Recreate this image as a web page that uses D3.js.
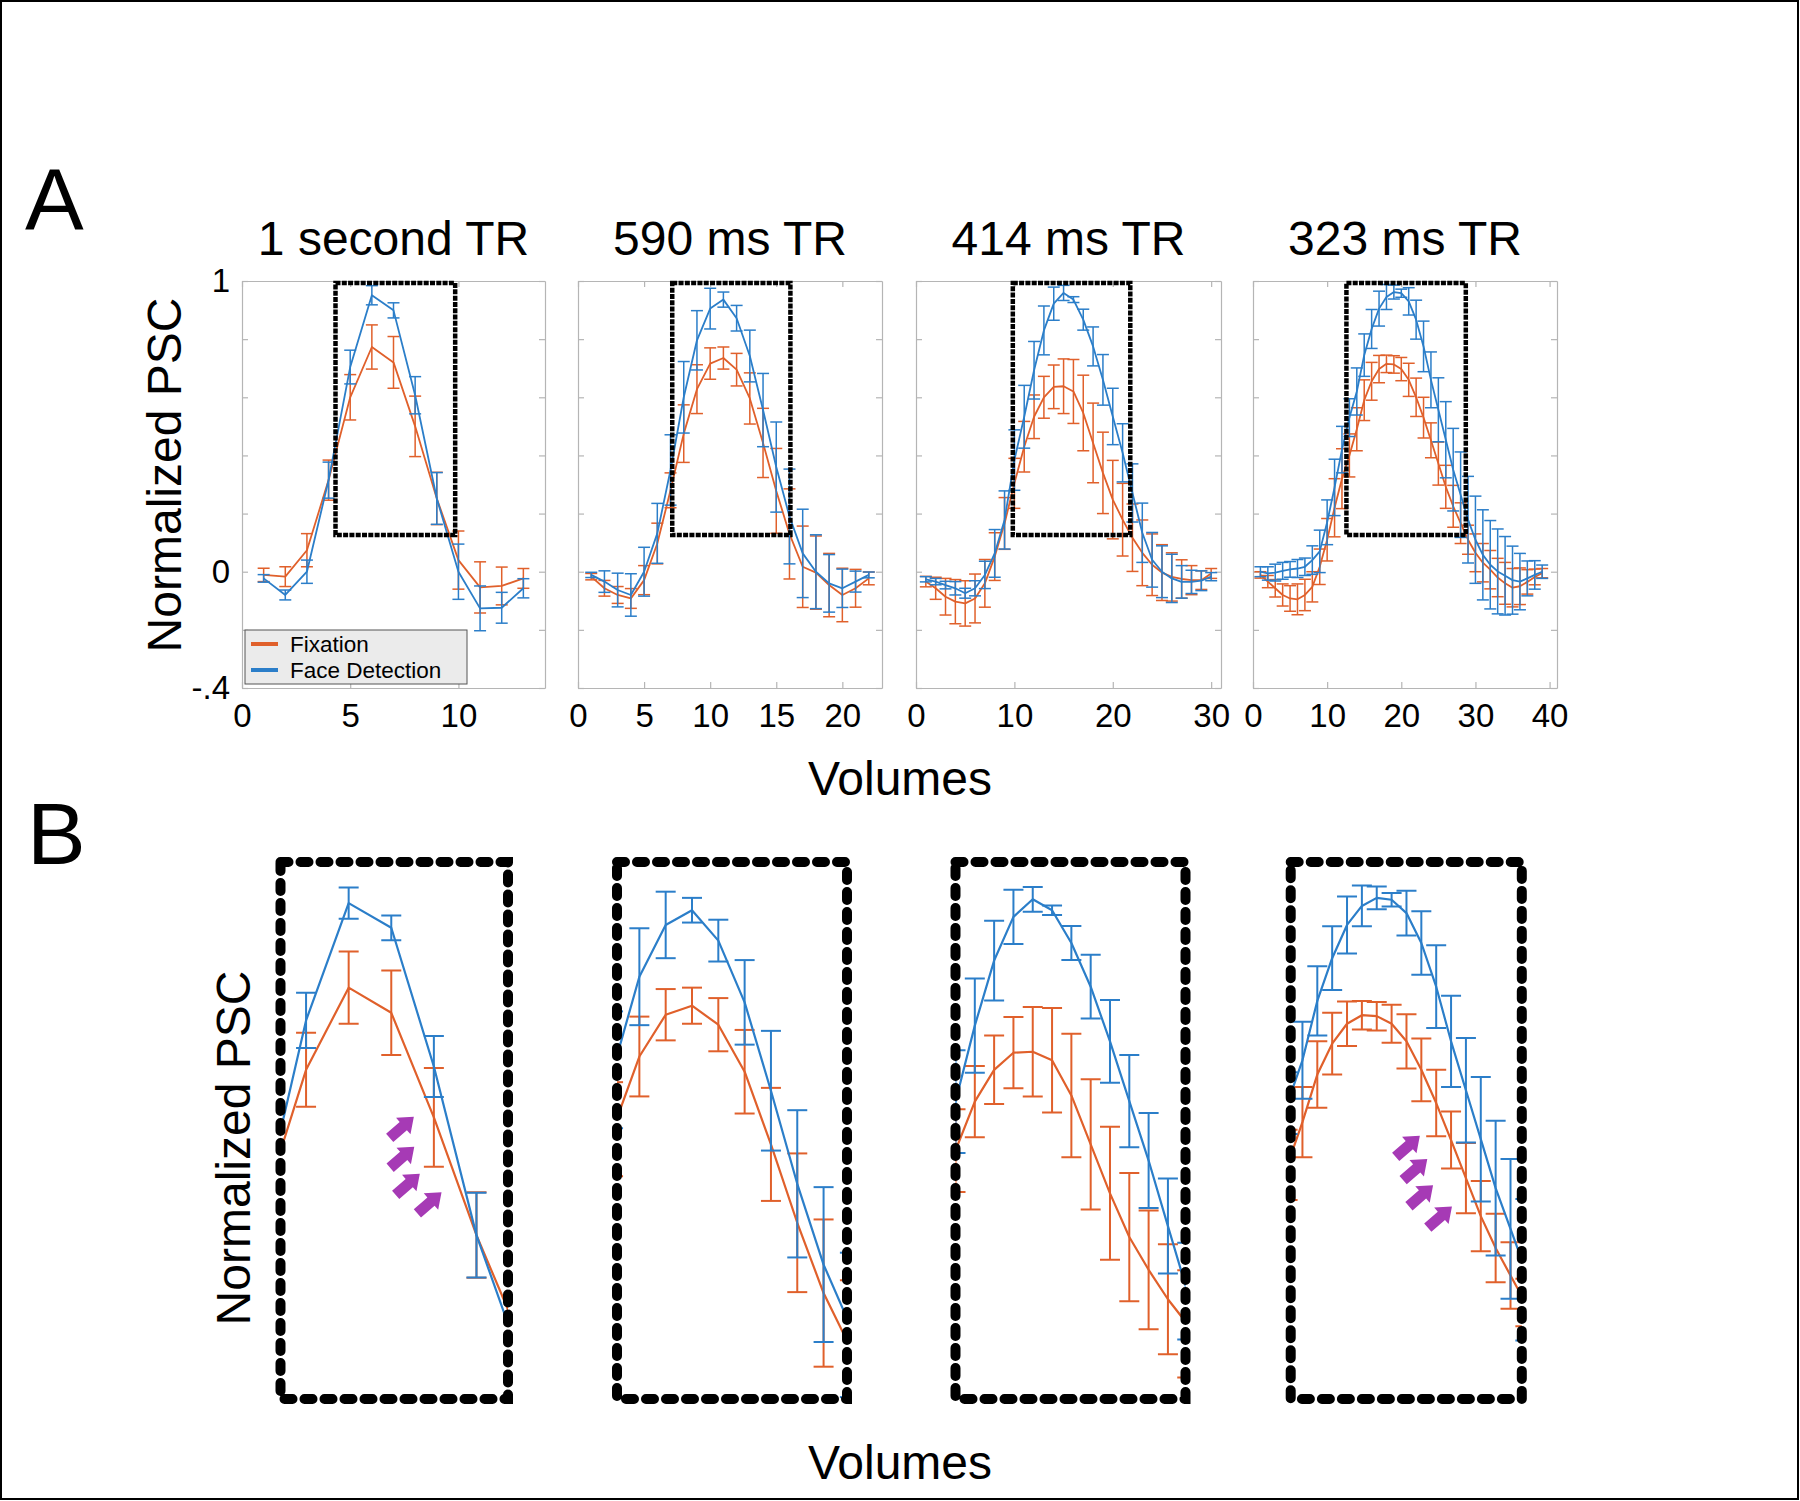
<!DOCTYPE html>
<html><head><meta charset="utf-8">
<script src="https://cdn.jsdelivr.net/npm/d3@7"></script>
<style>
body{margin:0;background:#fff}
svg{display:block}
text{font-family:"Liberation Sans",Arial,sans-serif;fill:#000}
</style>
</head><body>
<svg id="chart" width="1800" height="1501"></svg>
<script>
// ---------------- DATA ----------------
const panelTitles = ["1 second TR", "590 ms TR", "414 ms TR", "323 ms TR"];
const seriesNames = ["Fixation", "Face Detection"];
const xAxisLabel = "Volumes";
const yAxisLabel = "Normalized PSC";
const xMax = [14, 23, 31, 41];
const xTicks = [[0, 5, 10], [0, 5, 10, 15, 20], [0, 10, 20, 30], [0, 10, 20, 30, 40]];
const yTicks = [-0.4, -0.2, 0, 0.2, 0.4, 0.6, 0.8, 1];
const yTickLabelled = [-0.4, 0, 1];
const yTickText = ["-.4", "0", "1"];

// 1 second TR
const fix1 = [-0.011, -0.017, 0.074, 0.315, 0.60, 0.773, 0.72, 0.50, 0.252, 0.04, -0.054, -0.049, -0.023];
const fixErr1 = [0.023, 0.034, 0.057, 0.069, 0.078, 0.076, 0.089, 0.104, 0.09, 0.10, 0.088, 0.065, 0.034];
const face1 = [-0.023, -0.08, 0.0, 0.315, 0.704, 0.951, 0.899, 0.607, 0.252, 0.0, -0.126, -0.124, -0.057];
const faceErr1 = [0.013, 0.017, 0.04, 0.062, 0.058, 0.033, 0.026, 0.064, 0.089, 0.095, 0.077, 0.053, 0.033];

// 590 ms TR
const fix2 = [-0.017, -0.057, -0.08, -0.092, -0.029, 0.097, 0.28, 0.475, 0.628, 0.716, 0.735, 0.695, 0.596, 0.443, 0.278, 0.13, 0.017, -0.003, -0.046, -0.08, -0.057, -0.023];
const fixErr2 = [0.011, 0.027, 0.029, 0.034, 0.05, 0.07, 0.06, 0.099, 0.084, 0.054, 0.038, 0.056, 0.088, 0.119, 0.146, 0.155, 0.14, 0.126, 0.109, 0.092, 0.065, 0.022];
const face2 = [-0.011, -0.034, -0.063, -0.08, 0.0, 0.132, 0.35, 0.60, 0.796, 0.905, 0.936, 0.872, 0.742, 0.556, 0.36, 0.19, 0.063, 0.0, -0.04, -0.057, -0.034, -0.011];
const faceErr2 = [0.009, 0.037, 0.058, 0.073, 0.084, 0.103, 0.121, 0.123, 0.102, 0.07, 0.026, 0.044, 0.089, 0.126, 0.155, 0.163, 0.152, 0.127, 0.099, 0.066, 0.036, 0.01];

// 414 ms TR
const fix3 = [-0.034, -0.057, -0.086, -0.103, -0.109, -0.092, -0.04, 0.052, 0.166, 0.304, 0.43, 0.533, 0.60, 0.636, 0.638, 0.62, 0.546, 0.443, 0.34, 0.248, 0.179, 0.117, 0.065, 0.024, -0.003, -0.018, -0.025, -0.029, -0.029, -0.006];
const fixErr3 = [0.018, 0.038, 0.063, 0.076, 0.078, 0.084, 0.082, 0.082, 0.089, 0.086, 0.087, 0.075, 0.072, 0.075, 0.094, 0.11, 0.13, 0.137, 0.14, 0.135, 0.125, 0.116, 0.113, 0.106, 0.096, 0.083, 0.066, 0.05, 0.032, 0.017];
const face3 = [-0.026, -0.034, -0.046, -0.057, -0.074, -0.057, -0.011, 0.063, 0.178, 0.384, 0.533, 0.693, 0.83, 0.922, 0.959, 0.936, 0.867, 0.775, 0.66, 0.534, 0.409, 0.271, 0.134, 0.041, 0.0, -0.023, -0.035, -0.035, -0.031, -0.017];
const faceErr3 = [0.009, 0.011, 0.013, 0.023, 0.017, 0.026, 0.047, 0.082, 0.1, 0.104, 0.108, 0.099, 0.084, 0.057, 0.026, 0.01, 0.036, 0.067, 0.087, 0.097, 0.1, 0.1, 0.102, 0.094, 0.089, 0.083, 0.056, 0.04, 0.034, 0.014];

// 323 ms TR
const fix4 = [-0.011, -0.034, -0.057, -0.08, -0.092, -0.095, -0.08, -0.052, 0.017, 0.11, 0.22, 0.32, 0.40, 0.49, 0.59, 0.655, 0.697, 0.715, 0.713, 0.697, 0.66, 0.60, 0.53, 0.452, 0.372, 0.292, 0.225, 0.167, 0.11, 0.065, 0.031, 0.007, -0.02, -0.04, -0.055, -0.05, -0.035, -0.018, -0.005];
const fixErr4 = [0.011, 0.021, 0.03, 0.038, 0.044, 0.053, 0.054, 0.052, 0.061, 0.073, 0.1, 0.103, 0.074, 0.074, 0.07, 0.065, 0.047, 0.03, 0.03, 0.04, 0.057, 0.066, 0.07, 0.06, 0.074, 0.074, 0.072, 0.07, 0.05, 0.065, 0.066, 0.066, 0.066, 0.072, 0.066, 0.063, 0.042, 0.027, 0.016];
const face4 = [0.0, -0.006, -0.003, 0.003, 0.008, 0.011, 0.017, 0.04, 0.07, 0.17, 0.29, 0.42, 0.53, 0.62, 0.745, 0.835, 0.905, 0.945, 0.962, 0.958, 0.93, 0.867, 0.775, 0.66, 0.557, 0.454, 0.351, 0.265, 0.179, 0.11, 0.058, 0.024, 0.001, -0.014, -0.029, -0.034, -0.023, -0.011, 0.0];
const faceErr4 = [0.017, 0.023, 0.029, 0.029, 0.027, 0.031, 0.03, 0.049, 0.073, 0.077, 0.097, 0.08, 0.065, 0.081, 0.073, 0.067, 0.06, 0.043, 0.024, 0.014, 0.047, 0.067, 0.087, 0.096, 0.11, 0.131, 0.142, 0.147, 0.149, 0.15, 0.155, 0.152, 0.146, 0.135, 0.117, 0.097, 0.06, 0.049, 0.023];

// highlighted windows (data units) and zoomed views
const boxX = [[4.32, 9.85], [7.13, 16.07], [9.84, 21.78], [12.6, 28.7]];
const boxY = [0.126, 0.993];
const zoomX = [[4.40, 9.74], [8.15, 16.89], [11.0, 22.91], [13.21, 28.76]];
const zoomY = [-0.093, 1.0375];
// arrow tips (data units) in zoomed panels
const arrowTips = [
  [[7.53, 0.501], [7.54, 0.438], [7.67, 0.381], [8.18, 0.342]],
  [],
  [],
  [[21.90, 0.461], [22.40, 0.412], [22.79, 0.357], [24.06, 0.312]]
];

const fixMeans = [fix1, fix2, fix3, fix4];
const fixErrs = [fixErr1, fixErr2, fixErr3, fixErr4];
const faceMeans = [face1, face2, face3, face4];
const faceErrs = [faceErr1, faceErr2, faceErr3, faceErr4];

// ---------------- STYLE / LAYOUT ----------------
const colFix = "#e0602b";
const colFace = "#2b7ec9";
const axisCol = "#b5b5b5";
const aLeft = [242, 578, 916, 1253];
const aRight = [545, 882, 1221, 1557];
const aTop = 281, aBottom = 688;
const bLeft = [280.5, 617, 955.5, 1290.7];
const bRight = [508, 847, 1185.5, 1521.8];
const bTop = 862, bBottom = 1399;

const svg = d3.select("#chart");
svg.append("rect").attr("x", 1).attr("y", 1).attr("width", 1797).attr("height", 1498)
  .attr("fill", "#fff").attr("stroke", "#000").attr("stroke-width", 2);

function drawSeries(g, xs, ys, means, errs, color, cap, lw, blw) {
  const idx = d3.range(1, means.length + 1);
  const sg = g.append("g");
  sg.selectAll("line.bar").data(means).join("line").attr("class", "bar")
    .attr("x1", (d, i) => xs(idx[i])).attr("x2", (d, i) => xs(idx[i]))
    .attr("y1", (d, i) => ys(d - errs[i])).attr("y2", (d, i) => ys(d + errs[i]))
    .attr("stroke", color).attr("stroke-width", blw);
  sg.selectAll("line.capT").data(means).join("line").attr("class", "capT")
    .attr("x1", (d, i) => xs(idx[i]) - cap / 2).attr("x2", (d, i) => xs(idx[i]) + cap / 2)
    .attr("y1", (d, i) => ys(d + errs[i])).attr("y2", (d, i) => ys(d + errs[i]))
    .attr("stroke", color).attr("stroke-width", blw);
  sg.selectAll("line.capB").data(means).join("line").attr("class", "capB")
    .attr("x1", (d, i) => xs(idx[i]) - cap / 2).attr("x2", (d, i) => xs(idx[i]) + cap / 2)
    .attr("y1", (d, i) => ys(d - errs[i])).attr("y2", (d, i) => ys(d - errs[i]))
    .attr("stroke", color).attr("stroke-width", blw);
  sg.append("path").datum(means)
    .attr("d", d3.line().x((d, i) => xs(idx[i])).y(d => ys(d)))
    .attr("fill", "none").attr("stroke", color).attr("stroke-width", lw)
    .attr("stroke-linejoin", "round");
}

function styleAxis(sel) {
  sel.select(".domain").attr("stroke", axisCol).attr("stroke-width", 1.2);
  sel.selectAll(".tick line").attr("stroke", axisCol).attr("stroke-width", 1.2);
  sel.selectAll(".tick text").attr("font-family", "Liberation Sans, Arial, sans-serif")
    .attr("font-size", 33).attr("fill", "#000");
}

// ---------------- PANEL A ----------------
for (let p = 0; p < 4; p++) {
  const xs = d3.scaleLinear().domain([0, xMax[p]]).range([aLeft[p], aRight[p]]);
  const ys = d3.scaleLinear().domain([-0.4, 1]).range([aBottom, aTop]);
  const g = svg.append("g");

  const ax = g.append("g").attr("transform", `translate(0,${aBottom})`)
    .call(d3.axisBottom(xs).tickValues(xTicks[p]).tickFormat(d3.format("d")).tickSizeInner(-6).tickSizeOuter(0).tickPadding(16));
  styleAxis(ax);
  ax.selectAll(".tick text").attr("dy", "0.71em");
  const axT = g.append("g").attr("transform", `translate(0,${aTop})`)
    .call(d3.axisTop(xs).tickValues(xTicks[p]).tickFormat("").tickSizeInner(-6).tickSizeOuter(0));
  styleAxis(axT);
  const ayL = g.append("g").attr("transform", `translate(${aLeft[p]},0)`)
    .call(d3.axisLeft(ys).tickValues(yTicks).tickSizeInner(-6).tickSizeOuter(0).tickPadding(12)
      .tickFormat(d => {
        if (p !== 0) return "";
        const k = yTickLabelled.findIndex(v => Math.abs(v - d) < 1e-9);
        return k >= 0 ? yTickText[k] : "";
      }));
  styleAxis(ayL);
  const ayR = g.append("g").attr("transform", `translate(${aRight[p]},0)`)
    .call(d3.axisRight(ys).tickValues(yTicks).tickFormat("").tickSizeInner(-6).tickSizeOuter(0));
  styleAxis(ayR);

  drawSeries(g, xs, ys, fixMeans[p], fixErrs[p], colFix, 12, 1.8, 1.5);
  drawSeries(g, xs, ys, faceMeans[p], faceErrs[p], colFace, 12, 1.8, 1.5);

  g.append("rect")
    .attr("x", xs(boxX[p][0])).attr("y", ys(boxY[1]))
    .attr("width", xs(boxX[p][1]) - xs(boxX[p][0]))
    .attr("height", ys(boxY[0]) - ys(boxY[1]))
    .attr("fill", "none").attr("stroke", "#000").attr("stroke-width", 4.5)
    .attr("stroke-dasharray", "5,1.3");

  svg.append("text").attr("x", (aLeft[p] + aRight[p]) / 2).attr("y", 255)
    .attr("text-anchor", "middle").attr("font-size", 48).text(panelTitles[p]);

  if (p === 0) {
    const lg = g.append("g").attr("transform", `translate(${aLeft[p] + 3},${aBottom - 58})`);
    lg.append("rect").attr("width", 222).attr("height", 54)
      .attr("fill", "#ebebeb").attr("stroke", "#555").attr("stroke-width", 1);
    const cols = [colFix, colFace];
    seriesNames.forEach((nm, i) => {
      const yy = 14 + i * 26;
      lg.append("line").attr("x1", 6).attr("x2", 33).attr("y1", yy).attr("y2", yy)
        .attr("stroke", cols[i]).attr("stroke-width", 4);
      lg.append("text").attr("x", 45).attr("y", yy + 8).attr("font-size", 22.5).text(nm);
    });
  }
}

// ---------------- PANEL B ----------------
const defs = svg.append("defs");
for (let p = 0; p < 4; p++) {
  const xs = d3.scaleLinear().domain(zoomX[p]).range([bLeft[p], bRight[p]]);
  const ys = d3.scaleLinear().domain(zoomY).range([bBottom, bTop]);
  defs.append("clipPath").attr("id", "clipB" + p).append("rect")
    .attr("x", bLeft[p]).attr("y", bTop).attr("width", bRight[p] - bLeft[p]).attr("height", bBottom - bTop);
  const g = svg.append("g").attr("clip-path", `url(#clipB${p})`);
  drawSeries(g, xs, ys, fixMeans[p], fixErrs[p], colFix, 20, 2.2, 2);
  drawSeries(g, xs, ys, faceMeans[p], faceErrs[p], colFace, 20, 2.2, 2);

  const ag = svg.append("g");
  ag.selectAll("path").data(arrowTips[p]).join("path")
    .attr("d", "M0,0 L-14,-11 L-14,-5.5 L-32,-5.5 L-32,5.5 L-14,5.5 L-14,11 Z")
    .attr("transform", d => `translate(${xs(d[0])},${ys(d[1])}) rotate(-41)`)
    .attr("fill", "#a63ab5");

  svg.append("rect").attr("x", bLeft[p]).attr("y", bTop)
    .attr("width", bRight[p] - bLeft[p]).attr("height", bBottom - bTop)
    .attr("fill", "none").attr("stroke", "#000").attr("stroke-width", 10)
    .attr("stroke-dasharray", "8,12").attr("stroke-linecap", "round");
}

// ---------------- LABELS ----------------
svg.append("text").attr("x", 25).attr("y", 230).attr("font-size", 88).text("A");
svg.append("text").attr("x", 27).attr("y", 864).attr("font-size", 88).text("B");
svg.append("text").attr("x", 900).attr("y", 795).attr("text-anchor", "middle").attr("font-size", 48).text(xAxisLabel);
svg.append("text").attr("x", 900).attr("y", 1479).attr("text-anchor", "middle").attr("font-size", 48).text(xAxisLabel);
svg.append("text").attr("transform", "translate(181,475) rotate(-90)").attr("text-anchor", "middle").attr("font-size", 48).text(yAxisLabel);
svg.append("text").attr("transform", "translate(250,1148) rotate(-90)").attr("text-anchor", "middle").attr("font-size", 48).text(yAxisLabel);
</script>
</body></html>
